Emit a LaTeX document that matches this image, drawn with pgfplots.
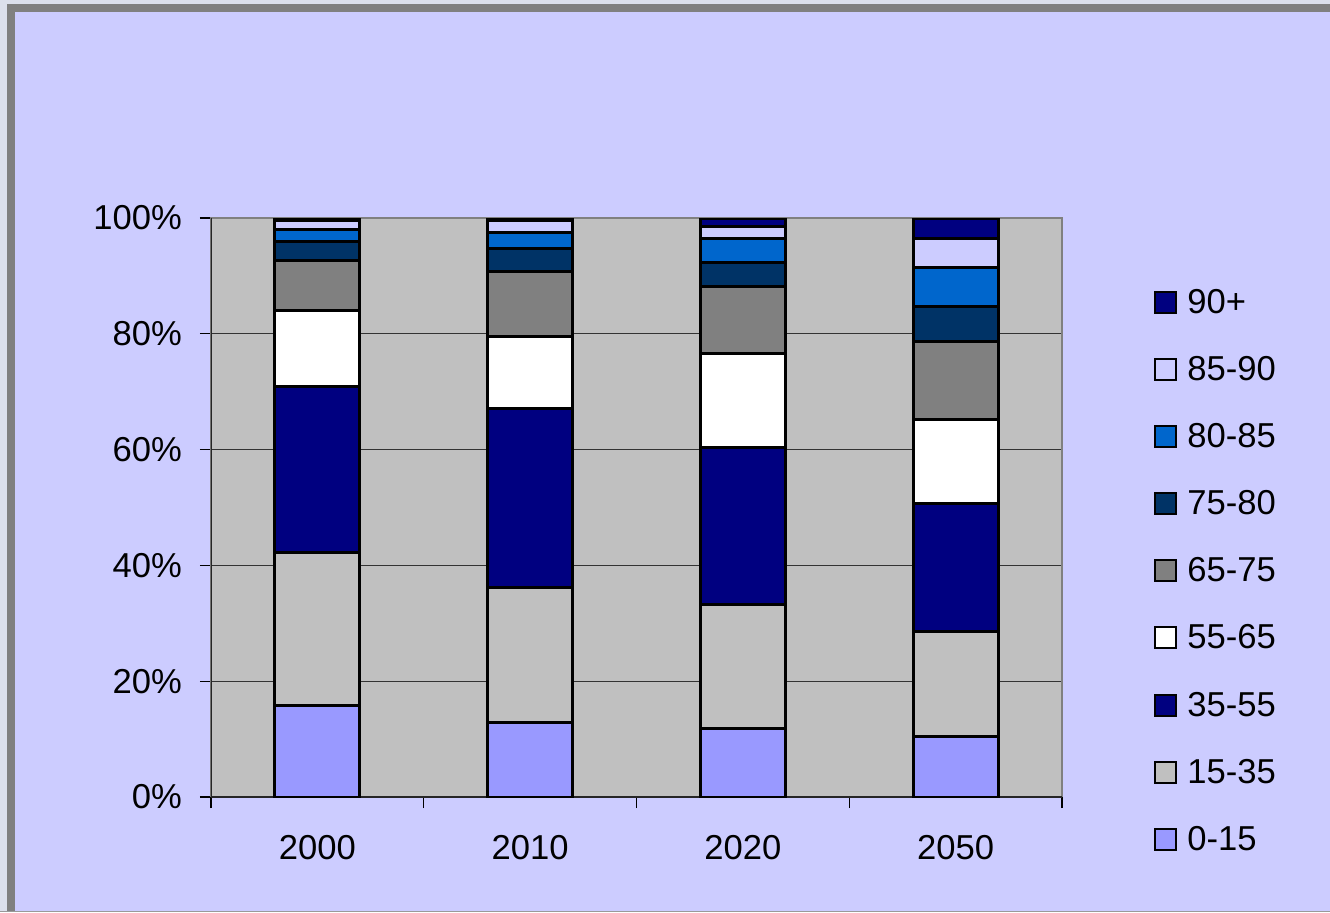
\documentclass[border=0pt]{standalone}
\usepackage{fontspec}
\setmainfont{Liberation Sans}
\usepackage{pgfplots}
\pgfplotsset{compat=1.18}
\usetikzlibrary{backgrounds}

% palette
\definecolor{pageout}{HTML}{DCE0EC}
\definecolor{framegray}{HTML}{808080}
\definecolor{chartbg}{HTML}{CCCCFF}
\definecolor{plotbg}{HTML}{C0C0C0}
\definecolor{cA}{HTML}{9999FF}   % 0-15
\definecolor{cB}{HTML}{C0C0C0}   % 15-35
\definecolor{cC}{HTML}{000080}   % 35-55
\definecolor{cD}{HTML}{FFFFFF}   % 55-65
\definecolor{cE}{HTML}{808080}   % 65-75
\definecolor{cF}{HTML}{003366}   % 75-80
\definecolor{cG}{HTML}{0066CC}   % 80-85
\definecolor{cH}{HTML}{CCCCFF}   % 85-90
\definecolor{cI}{HTML}{000080}   % 90+

\begin{document}
\begin{tikzpicture}
\begin{axis}[
  name=ax,
  scale only axis, width=425.5pt, height=289.5pt,
  ybar stacked, bar width=0.4,
  xmin=-0.5, xmax=3.5, ymin=0, ymax=100,
  axis background/.style={fill=plotbg},
  axis line style={draw=framegray, line width=1pt},
  ymajorgrids, grid style={draw=black!80, line width=0.6pt},
  ytick={0,20,40,60,80,100},
  yticklabels={0\%,20\%,40\%,60\%,80\%,100\%},
  ytick pos=left, xtick pos=bottom,
  y tick style={draw=black, line width=0.6pt},
  tick align=outside, major tick length=5.5pt,
  xtick={0,1,2,3}, xticklabels={2000,2010,2020,2050},
  x tick style={draw=none},
  extra x ticks={-0.5,0.5,1.5,2.5,3.5},
  extra x tick labels={},
  extra x tick style={x tick style={draw=black, line width=0.6pt}, grid=none},
  tick label style={font=\fontsize{17.3}{20}\selectfont},
  xticklabel style={yshift=-10pt},
  yticklabel style={xshift=-5.5pt},
  every axis plot/.append style={draw=black, line width=1.5pt},
  reverse legend,
  legend image code/.code={\draw[#1, line width=1pt] (0pt,-5pt) rectangle (10.5pt,5.5pt);},
  legend cell align=left,
  legend style={draw=none, fill=none, at={(1.108,0.885)}, anchor=north west,
    font=\fontsize{17.3}{20}\selectfont, row sep=16pt, column sep=3pt, inner sep=0pt},
]
\addplot[fill=cA] coordinates {(0,15.8) (1,12.8) (2,11.9) (3,10.5)};
\addplot[fill=cB] coordinates {(0,26.5) (1,23.4) (2,21.4) (3,18.1)};
\addplot[fill=cC] coordinates {(0,28.6) (1,30.9) (2,27.1) (3,22.1)};
\addplot[fill=cD] coordinates {(0,13.2) (1,12.4) (2,16.2) (3,14.5)};
\addplot[fill=cE] coordinates {(0,8.6) (1,11.3) (2,11.5) (3,13.4)};
\addplot[fill=cF] coordinates {(0,3.3) (1,3.9) (2,4.2) (3,6.1)};
\addplot[fill=cG] coordinates {(0,2.0) (1,2.8) (2,4.2) (3,6.7)};
\addplot[fill=cH] coordinates {(0,1.5) (1,2.0) (2,2.0) (3,5.1)};
\addplot[fill=cI] coordinates {(0,0.5) (1,0.5) (2,1.5) (3,3.5)};
\legend{0-15,15-35,35-55,55-65,65-75,75-80,80-85,85-90,90+}
\draw[black!85, line width=0.7pt] (rel axis cs:0,0) -- (rel axis cs:0,1);
\draw[black!85, line width=0.7pt] (rel axis cs:0,0) -- (rel axis cs:1,0);
\end{axis}
% chart area and outer frame, measured from the plot box corner
\begin{scope}[on background layer, shift={(ax.south west)}, x=1pt, y=1pt]
  \fill[pageout] (-105.5,-57.5) rectangle (559.5,398.5);
  \fill[framegray] (-102,-57.5) rectangle (559.5,396.5);
  \fill[chartbg] (-98,-56.9) rectangle (559.5,392.5);
  \fill[framegray!80] (-105.5,-57.5) rectangle (559.5,-56.9);
\end{scope}
\pgfresetboundingbox
\path[use as bounding box] ([shift={(-105.5pt,-57.5pt)}]ax.south west) rectangle ([shift={(559.5pt,398.5pt)}]ax.south west);
\end{tikzpicture}
\end{document}
